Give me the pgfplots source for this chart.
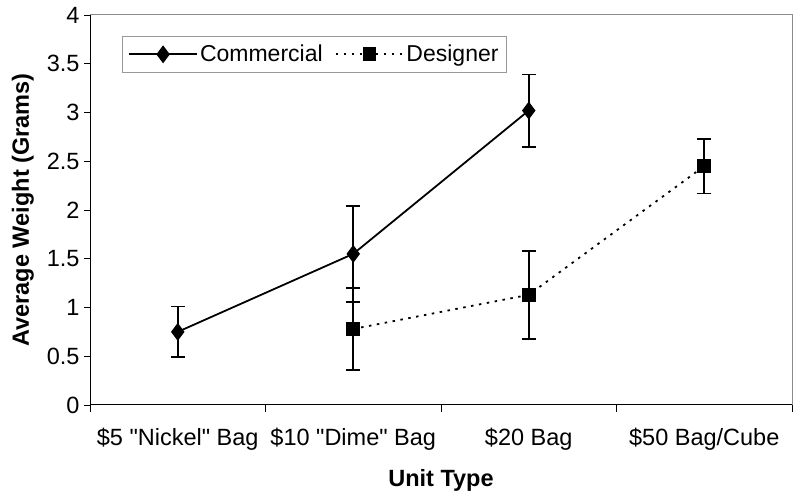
\documentclass[border=0pt]{standalone}
\usepackage{pgfplots}
\pgfplotsset{compat=1.18}
\usepackage{fontspec}
\setmainfont{Liberation Sans}
\begin{document}
\begin{tikzpicture}[x=1pt,y=1pt]
\path[use as bounding box] (0,0) rectangle (800,495);
\begin{axis}[
  at={(90pt,90pt)}, anchor=south west,
  scale only axis, width=702pt, height=390pt,
  xmin=-0.5, xmax=3.5, ymin=0, ymax=4,
  xtick={0,1,2,3},
  xticklabels={\$5 \textquotedbl Nickel\textquotedbl{} Bag, \$10 \textquotedbl Dime\textquotedbl{} Bag, \$20 Bag, \$50 Bag/Cube},
  minor xtick={-0.5,0.5,1.5,2.5,3.5},
  ytick={0,0.5,...,4},
  yticklabels={0,0.5,1,1.5,2,2.5,3,3.5,4},
  tick align=outside,
  major tick length=6pt, minor tick length=7pt,
  x tick style={draw=none},
  minor x tick style={draw=black, line width=0.8pt},
  y tick style={draw=black, line width=0.8pt},
  xtick pos=bottom, ytick pos=left,
  axis line style={draw=gray!90, line width=1pt},
  tick label style={font=\fontsize{23.5}{26}\selectfont},
  xticklabel style={yshift=-14pt},
  yticklabel style={xshift=-1pt},
  xlabel={\textbf{Unit Type}},
  ylabel={\textbf{Average Weight (Grams)}},
  label style={font=\fontsize{23.5}{26}\selectfont},
  xlabel style={yshift=-12pt},
  ylabel style={yshift=6pt},
  legend columns=2,
  legend style={at={(0.0456,0.946)}, anchor=north west, draw=gray!80, fill=white,
    font=\fontsize{23}{26}\selectfont, inner xsep=6pt, inner ysep=7pt,
    /tikz/every even column/.append style={column sep=10pt}},
  legend image code/.code={\draw[mark repeat=2,mark phase=2,#1] plot coordinates {(0pt,0pt)(34pt,0pt)(68pt,0pt)};},
]
\addplot[black, line width=1.8pt, mark=diamond*, mark size=7.5pt, mark options={solid},
  error bars/.cd, y dir=both, y explicit,
  error bar style={line width=1.8pt, solid},
  error mark options={rotate=90, mark size=7pt, line width=1.8pt}]
  coordinates {
  (0,0.75) +- (0,0.26)
  (1,1.55) +- (0,0.49)
  (2,3.02) +- (0,0.37)
};
\addlegendentry{Commercial}
\addplot[black, line width=1.8pt, dash pattern=on 2.5pt off 5.5pt, mark=square*, mark size=6pt, mark options={solid},
  error bars/.cd, y dir=both, y explicit,
  error bar style={line width=1.8pt, solid},
  error mark options={rotate=90, mark size=7pt, line width=1.8pt, solid}]
  coordinates {
  (1,0.78) +- (0,0.42)
  (2,1.13) +- (0,0.45)
  (3,2.45) +- (0,0.28)
};
\addlegendentry{Designer}
\draw[black, line width=1pt] (rel axis cs:0,1) -- (rel axis cs:0,0) -- (rel axis cs:1,0);
\end{axis}
\end{tikzpicture}
\end{document}
